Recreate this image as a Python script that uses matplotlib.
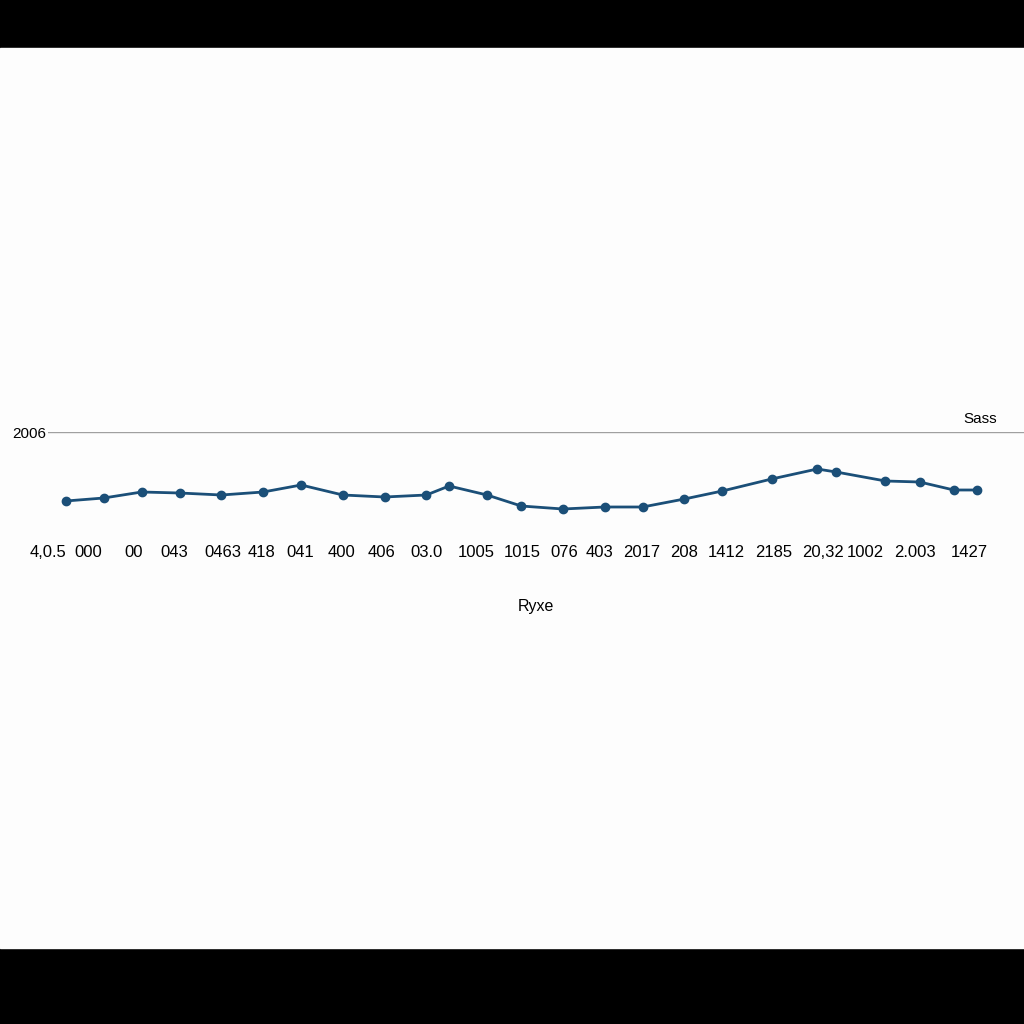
import matplotlib
matplotlib.use("Agg")
import matplotlib.pyplot as plt
from matplotlib.patches import Rectangle

# Donnees
x_vals = [0.0, 1.0, 2.0, 3.0, 4.1, 5.2, 6.2, 7.3, 8.4, 9.5, 10.1, 11.1, 12.0,
          13.1, 14.2, 15.2, 16.3, 17.3, 18.6, 19.8, 20.3, 21.6, 22.5, 23.4, 24.0]
y_vals = [1999.1, 1999.4, 2000.0, 1999.9, 1999.7, 2000.0, 2000.7, 1999.7, 1999.5,
          1999.7, 2000.6, 1999.7, 1998.6, 1998.3, 1998.5, 1998.5, 1999.3, 2000.1,
          2001.3, 2002.3, 2002.0, 2001.1, 2001.0, 2000.2, 2000.2]
tick_pos = [-0.47, 0.58, 1.78, 2.86, 4.14, 5.16, 6.18, 7.26, 8.33, 9.51, 10.82,
            12.03, 13.13, 14.07, 15.17, 16.30, 17.40, 18.65, 19.94, 21.06, 22.37, 23.81]
tick_labels = ["4,0.5", "000", "00", "043", "0463", "418", "041", "400", "406",
               "03.0", "1005", "1015", "076", "403", "2017", "208", "1412", "2185",
               "20,32", "1002", "2.003", "1427"]
y_ticks = [2006]

plt.rcParams["font.family"] = ["Liberation Sans", "DejaVu Sans"]

fig = plt.figure(figsize=(10.24, 10.24), dpi=100, facecolor="black")
# zone blanche entre les bandes noires
fig.patches.append(Rectangle((0, 1 - 948 / 1024), 1, 900 / 1024,
                             transform=fig.transFigure, color="#fdfdfd", zorder=-1))

ax = fig.add_axes([48 / 1024, 1 - 535 / 1024, 976 / 1024, 103 / 1024])
ax.set_facecolor("none")
ax.plot(x_vals, y_vals, color="#1b4f78", linewidth=2, marker="o", markersize=6)

ax.set_xlim(-0.32, 25.25)
ax.set_ylim(1995.7, 2006)
ax.set_yticks(y_ticks)
ax.set_yticklabels([str(v) for v in y_ticks], fontsize=11)
ax.set_xticks(tick_pos)
ax.set_xticklabels(tick_labels, fontsize=12)
ax.tick_params(axis="both", length=0)
ax.tick_params(axis="x", pad=7)
ax.tick_params(axis="y", pad=1)
ax.grid(True, axis="y", color="#a0a0a0", linewidth=1)
for s in ax.spines.values():
    s.set_visible(False)

ax.set_xlabel("Ryxe", fontsize=11.5, labelpad=28)
fig.text(997 / 1024, 1 - 419 / 1024, "Sass", ha="right", va="center", fontsize=11)

plt.savefig("out.png", dpi=100)
plt.close()
